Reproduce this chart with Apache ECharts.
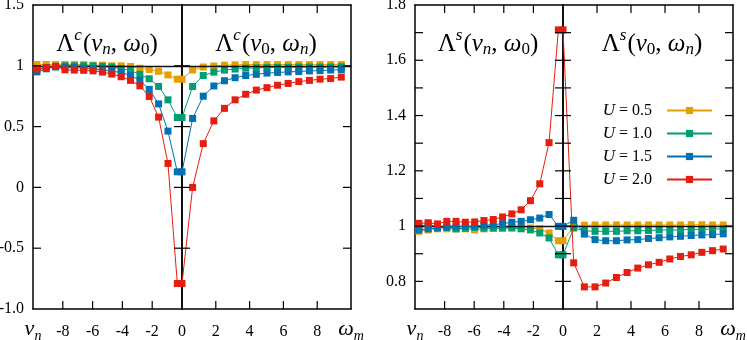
<!DOCTYPE html>
<html><head><meta charset="utf-8">
<script src="https://cdn.jsdelivr.net/npm/echarts@6/dist/echarts.min.js"></script>
<style>html,body{margin:0;padding:0;background:#fff}#c{width:747px;height:340px}</style>
</head><body><div id="c"></div>
<script>
// Matsubara frequencies (T = 0.1)
const nuN = [-9.739, -9.111, -8.482, -7.854, -7.226, -6.597, -5.969, -5.341, -4.712, -4.084, -3.456, -2.827, -2.199, -1.571, -0.942, -0.314];
const omegaM = [0, 0.628, 1.257, 1.885, 2.513, 3.142, 3.770, 4.398, 5.027, 5.655, 6.283, 6.912, 7.540, 8.168, 8.796, 9.425];
const seriesNames = ['U = 0.5', 'U = 1.0', 'U = 1.5', 'U = 2.0'];
const colors = ['#E69F00', '#009E73', '#0072B2', '#E51E10'];

// Λ^c(ν_n, ω_0)
const cNu05 = [1.01, 1.01, 1.01, 1.01, 1.01, 1.01, 1.005, 1.005, 1.0, 1.0, 0.995, 0.98, 0.97, 0.955, 0.925, 0.89];
const cNu10 = [0.965, 0.985, 0.995, 1.0, 1.0, 1.0, 1.0, 0.995, 0.99, 0.978, 0.962, 0.93, 0.893, 0.83, 0.72, 0.575];
const cNu15 = [0.95, 0.975, 0.99, 0.99, 0.985, 0.98, 0.975, 0.965, 0.955, 0.945, 0.92, 0.88, 0.806, 0.687, 0.463, 0.128];
const cNu20 = [0.973, 0.985, 0.995, 0.967, 0.965, 0.963, 0.958, 0.948, 0.932, 0.91, 0.88, 0.835, 0.748, 0.578, 0.197, -0.79];
// Λ^c(ν_0, ω_m)
const cOm05 = [0.89, 0.965, 0.99, 0.998, 1.005, 1.008, 1.01, 1.01, 1.01, 1.01, 1.01, 1.01, 1.01, 1.01, 1.01, 1.01];
const cOm10 = [0.575, 0.83, 0.92, 0.948, 0.965, 0.973, 0.98, 0.983, 0.985, 0.987, 0.988, 0.99, 0.99, 0.99, 0.99, 0.992];
const cOm15 = [0.128, 0.567, 0.75, 0.834, 0.877, 0.902, 0.92, 0.93, 0.94, 0.945, 0.95, 0.953, 0.958, 0.96, 0.965, 0.968];
const cOm20 = [-0.79, 0.0, 0.36, 0.547, 0.65, 0.72, 0.766, 0.80, 0.82, 0.84, 0.855, 0.87, 0.88, 0.89, 0.895, 0.907];
// Λ^s(ν_n, ω_0)
const sNu05 = [0.981, 0.986, 0.99, 0.99, 0.99, 0.99, 0.986, 0.99, 0.992, 0.993, 0.995, 0.995, 0.993, 0.99, 0.975, 0.947];
const sNu10 = [0.995, 1.01, 0.995, 0.995, 0.99, 0.992, 0.995, 0.993, 0.993, 0.993, 0.993, 0.99, 0.986, 0.975, 0.957, 0.896];
const sNu15 = [0.986, 0.99, 0.993, 0.997, 0.997, 0.999, 1.0, 1.003, 1.005, 1.009, 1.014, 1.017, 1.023, 1.029, 1.042, 0.999];
const sNu20 = [1.01, 1.012, 1.008, 1.017, 1.017, 1.014, 1.015, 1.02, 1.024, 1.033, 1.044, 1.059, 1.092, 1.153, 1.302, 1.71];
// Λ^s(ν_0, ω_m)
const sOm05 = [0.947, 0.999, 1.003, 1.004, 1.004, 1.004, 1.004, 1.004, 1.004, 1.004, 1.004, 1.004, 1.005, 1.005, 1.004, 1.004];
const sOm10 = [0.896, 0.993, 0.983, 0.981, 0.981, 0.981, 0.983, 0.983, 0.984, 0.986, 0.986, 0.986, 0.988, 0.988, 0.989, 0.99];
const sOm15 = [0.999, 1.021, 0.971, 0.951, 0.947, 0.947, 0.95, 0.951, 0.955, 0.958, 0.961, 0.963, 0.966, 0.968, 0.969, 0.972];
const sOm20 = [1.71, 0.867, 0.78, 0.78, 0.794, 0.814, 0.832, 0.848, 0.86, 0.869, 0.881, 0.89, 0.896, 0.905, 0.911, 0.917];

// tick labels
const yTicksC = [-1, -0.5, 0, 0.5, 1, 1.5];
const yTickLabelsC = ['-1.0', '-0.5', '0', '0.5', '1', '1.5'];
const yTicksS = [0.8, 1.0, 1.2, 1.4, 1.6, 1.8];
const yTickLabelsS = ['0.8', '1', '1.2', '1.4', '1.6', '1.8'];
const xTicksNu = [-10, -8, -6, -4, -2, 0];
const xTickLabelsNu = ['{g|ν}{s|n}', '{d|-8}', '{d|-6}', '{d|-4}', '{d|-2}', '{d|0}'];
const xTicksOm = [0, 2, 4, 6, 8, 10];
const xTickLabelsOm = ['', '{d|2}', '{d|4}', '{d|6}', '{d|8}', '{g|ω}{s|m}'];
// tick mark values (inner ticks, mirrored on both sides of every frame)
const xTickMarksNu = [-8, -6, -4, -2];
const xTickMarksOm = [2, 4, 6, 8];
const yTickMarksC = [-0.5, 0, 0.5, 1];
const yTickMarksS = [0.8, 0.9, 1.0, 1.1, 1.2, 1.3, 1.4, 1.5, 1.6, 1.7];

const FONT = '"Liberation Serif","DejaVu Serif","Times New Roman",serif';

function lookup(ticks, labels, v) {
  for (let i = 0; i < ticks.length; i++) if (Math.abs(ticks[i] - v) < 1e-6) return labels[i];
  return '';
}

const panels = [
  {grid: {left: 33, top: 5, width: 149, height: 304}, xr: [-10, 0], xs: nuN, ys: [cNu05, cNu10, cNu15, cNu20], yr: [-1, 1.5], yi: 0.5, yt: yTicksC, yl: yTickLabelsC, xt: xTicksNu, xl: xTickLabelsNu, xm: xTickMarksNu, ym: yTickMarksC, showY: true},
  {grid: {left: 182, top: 5, width: 169, height: 304}, xr: [0, 10], xs: omegaM, ys: [cOm05, cOm10, cOm15, cOm20], yr: [-1, 1.5], yi: 0.5, yt: yTicksC, yl: yTickLabelsC, xt: xTicksOm, xl: xTickLabelsOm, xm: xTickMarksOm, ym: yTickMarksC, showY: false},
  {grid: {left: 415, top: 5, width: 148, height: 304}, xr: [-10, 0], xs: nuN, ys: [sNu05, sNu10, sNu15, sNu20], yr: [0.7, 1.8], yi: 0.1, yt: yTicksS, yl: yTickLabelsS, xt: xTicksNu, xl: xTickLabelsNu, xm: xTickMarksNu, ym: yTickMarksS, showY: true},
  {grid: {left: 563, top: 5, width: 170, height: 304}, xr: [0, 10], xs: omegaM, ys: [sOm05, sOm10, sOm15, sOm20], yr: [0.7, 1.8], yi: 0.1, yt: yTicksS, yl: yTickLabelsS, xt: xTicksOm, xl: xTickLabelsOm, xm: xTickMarksOm, ym: yTickMarksS, showY: false}
];

const noTick = {show: false};
function frameLine(zeroIdx) {
  return {show: true, onZero: true, onZeroAxisIndex: zeroIdx, lineStyle: {color: '#000', width: 1.5}};
}
const grid = [], xAxis = [], yAxis = [], series = [];
panels.forEach((p, g) => {
  const b = 4 * g;
  grid.push(Object.assign({show: false, containLabel: false, outerBoundsMode: 'none'}, p.grid));
  const xBase = {type: 'value', gridIndex: g, min: p.xr[0], max: p.xr[1], interval: 2,
    splitLine: {show: false}, axisTick: noTick, minorTick: {show: false}};
  xAxis.push(Object.assign({}, xBase, {position: 'bottom', axisLine: frameLine(b + 2),
    axisLabel: {show: true, showMinLabel: true, showMaxLabel: true, hideOverlap: false, margin: 7, color: '#000', fontFamily: FONT, fontSize: 16,
      formatter: v => lookup(p.xt, p.xl, v),
      rich: {d: {fontFamily: FONT, fontSize: 16, color: '#000', padding: [8, 0, 0, 0]},
             g: {fontFamily: FONT, fontSize: 22, fontStyle: 'italic', color: '#000'},
             s: {fontFamily: FONT, fontSize: 14, fontStyle: 'italic', color: '#000', padding: [13, 0, 0, 0]}}}}));
  xAxis.push(Object.assign({}, xBase, {position: 'top', axisLine: frameLine(b + 3), axisLabel: {show: false}}));
  xAxis.push({type: 'value', gridIndex: g, min: 0, max: 1, show: false, axisLine: {onZero: false}});
  xAxis.push({type: 'value', gridIndex: g, min: -1, max: 0, show: false, axisLine: {onZero: false}});

  const yBase = {type: 'value', gridIndex: g, min: p.yr[0], max: p.yr[1], interval: p.yi,
    splitLine: {show: false}, axisTick: noTick, minorTick: {show: false}};
  yAxis.push(Object.assign({}, yBase, {position: 'left', axisLine: frameLine(b + 2),
    axisLabel: {show: p.showY, showMinLabel: true, showMaxLabel: true, hideOverlap: false, margin: 9, color: '#000', fontFamily: FONT, fontSize: 16,
      formatter: v => lookup(p.yt, p.yl, v)}}));
  yAxis.push(Object.assign({}, yBase, {position: 'right', axisLine: frameLine(b + 3), axisLabel: {show: false}}));
  yAxis.push({type: 'value', gridIndex: g, min: 0, max: 1, show: false, axisLine: {onZero: false}});
  yAxis.push({type: 'value', gridIndex: g, min: -1, max: 0, show: false, axisLine: {onZero: false}});

  p.ys.forEach((vals, k) => {
    const s = {
      type: 'line', name: seriesNames[k], xAxisIndex: b, yAxisIndex: b,
      data: p.xs.map((x, i) => [x, vals[i]]),
      symbol: 'rect', symbolSize: 7, showSymbol: true,
      lineStyle: {width: 1, color: colors[k]}, itemStyle: {color: colors[k]},
      z: 3 + k, animation: false, silent: true
    };
    if (k === 0) {
      s.markLine = {silent: true, symbol: 'none', animation: false, label: {show: false},
        lineStyle: {color: '#111', width: 1.3, type: 'solid'}, data: [{yAxis: 1}]};
    }
    series.push(s);
  });
});

function titleRich() {
  return {
    L: {fontSize: 25, fontFamily: FONT, fill: '#000'},
    sp: {fontSize: 17, fontStyle: 'italic', fontFamily: FONT, fill: '#000', padding: [0, 1, 16, 0]},
    gi: {fontSize: 25, fontStyle: 'italic', fontFamily: FONT, fill: '#000'},
    sb: {fontSize: 17, fontStyle: 'italic', fontFamily: FONT, fill: '#000', padding: [11, 0, 0, 0]},
    sb0: {fontSize: 17, fontFamily: FONT, fill: '#000', padding: [11, 0, 0, 0]}
  };
}
const titles = [
  {x: 107, y: 44, text: '{L|Λ}{sp|c}{L|(}{gi|ν}{sb|n}{L|, }{gi|ω}{sb0|0}{L|)}'},
  {x: 266, y: 44, text: '{L|Λ}{sp|c}{L|(}{gi|ν}{sb0|0}{L|, }{gi|ω}{sb|n}{L|)}'},
  {x: 488, y: 44, text: '{L|Λ}{sp|s}{L|(}{gi|ν}{sb|n}{L|, }{gi|ω}{sb0|0}{L|)}'},
  {x: 652, y: 44, text: '{L|Λ}{sp|s}{L|(}{gi|ν}{sb0|0}{L|, }{gi|ω}{sb|n}{L|)}'}
];
const titleGraphics = titles.map(t => ({type: 'text', x: t.x, y: t.y, silent: true, z: 100,
  style: {text: t.text, rich: titleRich(), align: 'center', verticalAlign: 'middle', fontFamily: FONT, fontSize: 25, fill: '#000'}}));

const chart = echarts.init(document.getElementById('c'), null, {renderer: 'canvas'});
chart.setOption({
  animation: false,
  backgroundColor: '#fff',
  grid, xAxis, yAxis, series,
  legend: {
    data: seriesNames, orient: 'vertical', align: 'right', right: 34, top: 102, padding: 0,
    itemWidth: 45, itemHeight: 9, itemGap: 6, selectedMode: false,
    formatter: n => '{u|U}{t| = ' + n.split('= ')[1] + '}',
    textStyle: {fontFamily: FONT, fontSize: 16, color: '#000',
      rich: {u: {fontFamily: FONT, fontSize: 17, fontStyle: 'italic', color: '#000'},
             t: {fontFamily: FONT, fontSize: 16, color: '#000', padding: [0, 10, 0, 0]}}}
  },
  graphic: titleGraphics
});

// tick marks, positioned through the grid's own scale (linear fallback on the same grid box)
const TICK = 8;
const tickGraphics = [];
try {
  panels.forEach((p, g) => {
    const gr = p.grid;
    const toPx = (x, y) => {
      let r = null;
      try { r = chart.convertToPixel({gridIndex: g}, [x, y]); } catch (e) { r = null; }
      if (!r || !isFinite(r[0]) || !isFinite(r[1])) {
        r = [gr.left + (x - p.xr[0]) / (p.xr[1] - p.xr[0]) * gr.width,
             gr.top + gr.height - (y - p.yr[0]) / (p.yr[1] - p.yr[0]) * gr.height];
      }
      return r;
    };
    const seg = (x1, y1, x2, y2) => tickGraphics.push({type: 'line', silent: true, z: 200, zlevel: 1,
      shape: {x1: x1, y1: y1, x2: x2, y2: y2}, style: {stroke: '#000', lineWidth: 1.2, fill: null}});
    p.xm.forEach(v => {
      const bot = toPx(v, p.yr[0]), top = toPx(v, p.yr[1]);
      seg(bot[0], bot[1], bot[0], bot[1] - TICK);
      seg(top[0], top[1], top[0], top[1] + TICK);
    });
    p.ym.forEach(v => {
      const l = toPx(p.xr[0], v), r = toPx(p.xr[1], v);
      seg(l[0], l[1], l[0] + TICK, l[1]);
      seg(r[0], r[1], r[0] - TICK, r[1]);
    });
  });
  chart.setOption({graphic: {elements: titleGraphics.concat(tickGraphics)}});
} catch (e) { /* keep chart without ticks */ }
</script></body></html>
